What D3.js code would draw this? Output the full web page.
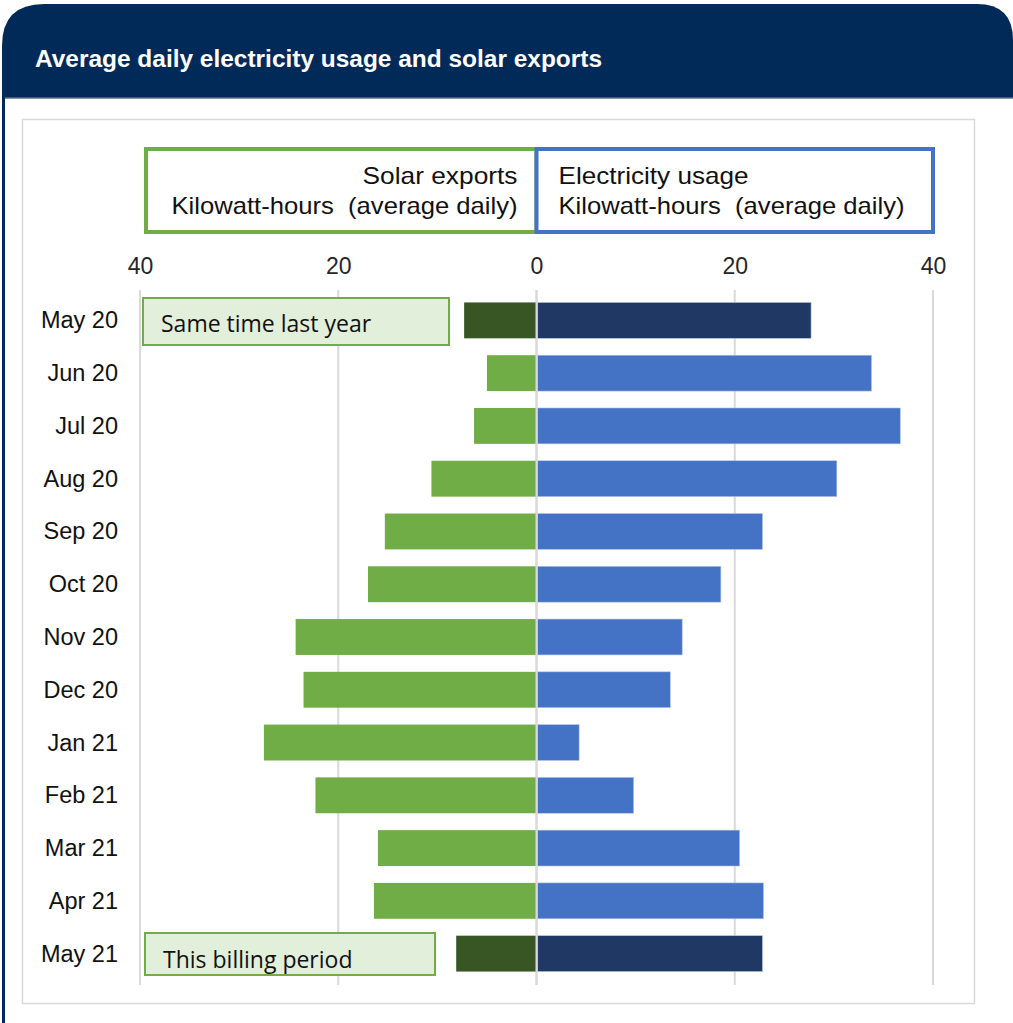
<!DOCTYPE html>
<html>
<head>
<meta charset="utf-8">
<script src="https://cdn.jsdelivr.net/npm/d3@7"></script>
<style>
  html, body { margin: 0; padding: 0; background: #fff; }
  svg { display: block; }
  text { white-space: pre; }
</style>
</head>
<body>
<svg id="chart" width="1013" height="1023"></svg>
<script>
// Monthly billing periods, top to bottom
const months = ["May 20","Jun 20","Jul 20","Aug 20","Sep 20","Oct 20","Nov 20","Dec 20","Jan 21","Feb 21","Mar 21","Apr 21","May 21"];
// Solar exports, kWh average daily (drawn to the left of zero)
const solarExports = [7.3, 5.0, 6.3, 10.6, 15.3, 17.0, 24.3, 23.5, 27.5, 22.3, 16.0, 16.4, 8.1];
// Electricity usage, kWh average daily (drawn to the right of zero)
const electricityUsage = [27.7, 33.8, 36.7, 30.3, 22.8, 18.6, 14.7, 13.5, 4.3, 9.8, 20.5, 22.9, 22.8];
const tickValues = [-40, -20, 0, 20, 40];
const titleText = "Average daily electricity usage and solar exports";

const NAVY = "#012a59";
const GREEN = "#70ad47", DARK_GREEN = "#375623";
const BLUE = "#4472c4", DARK_BLUE = "#203864";
const SANS = "Liberation Sans, Arial, sans-serif";

const svg = d3.select("#chart");

// Header band with rounded top corners
const hx0 = 2, hx1 = 1013, hy0 = 4, hy1 = 98, rL = 42, rR = 36;
svg.append("path")
  .attr("d", `M${hx0},${hy1} L${hx0},${hy0 + rL} Q${hx0},${hy0} ${hx0 + rL},${hy0} L${hx1 - rR},${hy0} Q${hx1},${hy0} ${hx1},${hy0 + rR} L${hx1},${hy1} Z`)
  .attr("fill", NAVY);
svg.append("line").attr("x1", hx0).attr("x2", hx1).attr("y1", hy1).attr("y2", hy1)
  .attr("stroke", "#5b6f8c").attr("stroke-width", 1.5);
// Panel left border
svg.append("rect").attr("x", 2).attr("y", 90).attr("width", 3).attr("height", 940).attr("fill", NAVY);

svg.append("text")
  .attr("x", 35).attr("y", 67)
  .attr("fill", "#fff")
  .attr("font-family", SANS)
  .attr("font-weight", "bold")
  .attr("font-size", 24)
  .attr("textLength", 567).attr("lengthAdjust", "spacingAndGlyphs")
  .text(titleText);

// Chart area frame
svg.append("rect").attr("x", 22.5).attr("y", 119.5).attr("width", 952).attr("height", 884)
  .attr("fill", "#fff").attr("stroke", "#d9d9d9").attr("stroke-width", 1.5);

// Scales
const x = d3.scaleLinear().domain([-40, 40]).range([140, 933]);
const y = d3.scaleBand().domain(months).range([294, 980]).paddingInner(0.32).paddingOuter(0.16);

// Gridlines
svg.append("g").selectAll("line").data(tickValues).join("line")
  .attr("x1", d => x(d)).attr("x2", d => x(d))
  .attr("y1", 290).attr("y2", 985)
  .attr("stroke", "#d9d9d9").attr("stroke-width", 2);

// Top axis labels
const axis = d3.axisTop(x).tickValues(tickValues).tickFormat(d => Math.abs(d)).tickSize(0).tickPadding(0);
const axG = svg.append("g").attr("transform", "translate(0,274)").call(axis);
axG.select(".domain").remove();
axG.selectAll("text")
  .attr("font-family", SANS)
  .attr("font-size", 23).attr("fill", "#262626");

// Legend header boxes
const legend = [
  { x0: -40, x1: 0, color: GREEN, lines: ["Solar exports", "Kilowatt-hours  (average daily)"], widths: [155, 346], anchor: "end" },
  { x0: 0, x1: 40, color: BLUE, lines: ["Electricity usage", "Kilowatt-hours  (average daily)"], widths: [190, 346], anchor: "start" }
];
legend.forEach(l => {
  const bx0 = Math.max(x(l.x0), 146), bx1 = x(l.x1);
  svg.append("rect").attr("x", bx0).attr("y", 149).attr("width", bx1 - bx0).attr("height", 83)
    .attr("fill", "#fff").attr("stroke", l.color).attr("stroke-width", 4);
  const tx = l.anchor === "end" ? bx1 - 19 : bx0 + 22;
  l.lines.forEach((s, i) => {
    svg.append("text").attr("x", tx).attr("y", 184 + i * 30)
      .attr("text-anchor", l.anchor)
      .attr("font-family", SANS)
      .attr("font-size", 24).attr("fill", "#111")
      .attr("textLength", l.widths[i])
      .attr("lengthAdjust", "spacingAndGlyphs")
      .text(s);
  });
});

// Category labels
svg.append("g").selectAll("text").data(months).join("text")
  .attr("x", 118).attr("y", d => y(d) + y.bandwidth() / 2 + 8)
  .attr("text-anchor", "end")
  .attr("font-family", SANS)
  .attr("font-size", 23.5).attr("fill", "#111")
  .text(d => d);

const highlight = i => i === 0 || i === months.length - 1;

// Solar export bars
svg.append("g").selectAll("rect").data(solarExports).join("rect")
  .attr("x", d => x(-d)).attr("width", d => x(0) - x(-d))
  .attr("y", (d, i) => y(months[i])).attr("height", y.bandwidth())
  .attr("fill", (d, i) => highlight(i) ? DARK_GREEN : GREEN);

// Electricity usage bars
svg.append("g").selectAll("rect").data(electricityUsage).join("rect")
  .attr("x", x(0) + 1).attr("width", d => x(d) - x(0) - 1)
  .attr("y", (d, i) => y(months[i])).attr("height", y.bandwidth())
  .attr("fill", (d, i) => highlight(i) ? DARK_BLUE : BLUE)
  .attr("stroke", "#b4c7e7").attr("stroke-width", 0.6);

// Zero line
svg.append("line").attr("x1", x(0)).attr("x2", x(0)).attr("y1", 290).attr("y2", 985)
  .attr("stroke", "#d9d9d9").attr("stroke-width", 2);

// Period call-outs
const callouts = [
  { label: "Same time last year", row: 0, x0: 143, x1: 449, y0: 298, y1: 345, dy: 10 },
  { label: "This billing period", row: months.length - 1, x0: 145, x1: 435, y0: 933, y1: 975, dy: 14 }
];
callouts.forEach(c => {
  svg.append("rect").attr("x", c.x0).attr("y", c.y0).attr("width", c.x1 - c.x0).attr("height", c.y1 - c.y0)
    .attr("fill", "#e2efda").attr("stroke", GREEN).attr("stroke-width", 2);
  svg.append("text").attr("x", c.x0 + 18).attr("y", (c.y0 + c.y1) / 2 + c.dy)
    .attr("font-family", "Open Sans, Lato, sans-serif")
    .attr("font-size", 23).attr("fill", "#111")
    .text(c.label);
});
</script>
</body>
</html>
